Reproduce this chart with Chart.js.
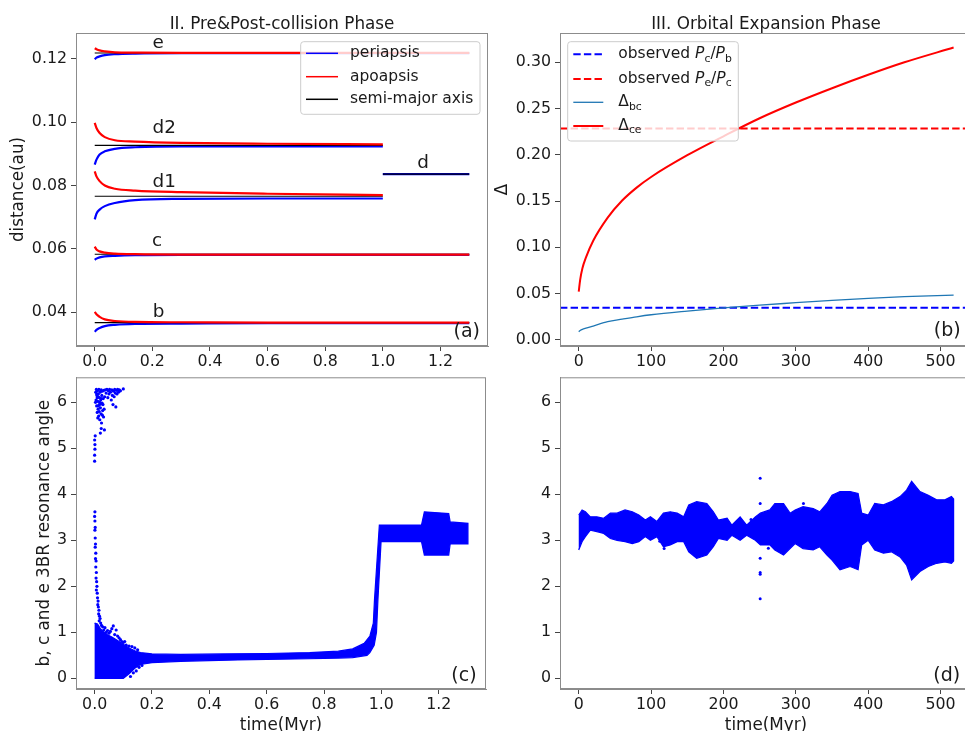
<!DOCTYPE html>
<html>
<head>
<meta charset="utf-8">
<script src="https://cdn.jsdelivr.net/npm/chart.js@4.4.1/dist/chart.umd.min.js"></script>
<style>
  html, body { margin: 0; padding: 0; background: #fff; overflow: hidden; width: 965px; height: 731px; }
  canvas { position: absolute; }
</style>
</head>
<body>
<canvas id="chartA" width="490" height="372" style="left:0;top:0"></canvas>
<canvas id="chartB" width="490" height="372" style="left:490px;top:0"></canvas>
<canvas id="chartC" width="490" height="371" style="left:0;top:360px"></canvas>
<canvas id="chartD" width="490" height="371" style="left:490px;top:360px"></canvas>
<script>
// ---------- panel (a): periapsis / apoapsis / semi-major axis ----------
const tFull  = [0, 0.006, 0.017, 0.035, 0.07, 0.14, 0.3, 0.6, 1.0, 1.3];
const tSplit = [0, 0.006, 0.017, 0.035, 0.07, 0.14, 0.3, 0.6, 1.0];

const bApo   = [0.0401, 0.0393, 0.0385, 0.0377, 0.0372, 0.0369, 0.0368, 0.0367, 0.0367, 0.0367];
const bPeri  = [0.0338, 0.0344, 0.0350, 0.0356, 0.0360, 0.0363, 0.0364, 0.0365, 0.0365, 0.0365];
const cApo   = [0.0607, 0.0598, 0.0592, 0.0588, 0.0585, 0.0583, 0.0582, 0.0582, 0.0582, 0.0582];
const cPeri  = [0.0565, 0.0569, 0.0573, 0.0576, 0.0578, 0.0580, 0.0581, 0.0581, 0.0581, 0.0581];
const eApo   = [0.1234, 0.1231, 0.1227, 0.1224, 0.1221, 0.1220, 0.1219, 0.1219, 0.1219, 0.1219];
const ePeri  = [0.1199, 0.1204, 0.1208, 0.1212, 0.1215, 0.1217, 0.1218, 0.1218, 0.1218, 0.1218];
const d1Apo  = [0.0845, 0.0829, 0.0814, 0.0800, 0.0790, 0.0784, 0.0779, 0.0774, 0.0770];
const d1Peri = [0.0693, 0.0711, 0.0724, 0.0735, 0.0745, 0.0754, 0.0758, 0.0759, 0.0759];
const d2Apo  = [0.0998, 0.0982, 0.0966, 0.0953, 0.0943, 0.0939, 0.0935, 0.0932, 0.0930];
const d2Peri = [0.0866, 0.0882, 0.0898, 0.0908, 0.0916, 0.0921, 0.0924, 0.0924, 0.0924];
const dMergedT = [1.0, 1.3];
const dMerged  = [0.0836, 0.0836];

const semiMajor = [0.0367, 0.0583, 0.0766, 0.0927, 0.1219, 0.0836];
const semiFrom  = [0, 0, 0, 0, 0, 1.0];
const semiTo    = [1.3, 1.3, 1.0, 1.0, 1.3, 1.3];

const planetNames = ['e', 'd2', 'd1', 'c', 'b', 'd'];
const planetAtT   = [0.22, 0.241, 0.241, 0.216, 0.222, 1.14];
const planetAtY   = [0.1251, 0.0982, 0.0810, 0.0623, 0.0399, 0.0872];

const aTicksX = [0, 0.2, 0.4, 0.6, 0.8, 1.0, 1.2];
const aTicksY = [0.04, 0.06, 0.08, 0.10, 0.12];

// ---------- panel (b): period ratio offsets ----------
const bT       = [0, 2, 5, 10, 20, 40, 60, 80, 100, 150, 200, 250, 300, 350, 400, 450, 518];
const deltaCe  = [0.052, 0.065, 0.077, 0.089, 0.107, 0.132, 0.1505, 0.1645, 0.176, 0.1995, 0.220, 0.2395, 0.2565, 0.272, 0.2865, 0.300, 0.316];
const deltaBc  = [0.0087, 0.0100, 0.0112, 0.0125, 0.0148, 0.0195, 0.0222, 0.0248, 0.0270, 0.0310, 0.0345, 0.0375, 0.0400, 0.0425, 0.0447, 0.0465, 0.0483];
const obsPcPb  = 0.0345;
const obsPePc  = 0.2283;
const bTicksX  = [0, 100, 200, 300, 400, 500];
const bTicksY  = [0, 0.05, 0.10, 0.15, 0.20, 0.25, 0.30];

// ---------- panel (c): 3BR angle, collision phase (cloud outline + stray points) ----------
const cUpperT = [0, 0.01, 0.02, 0.04, 0.06, 0.08, 0.10, 0.12, 0.14, 0.16, 0.20, 0.30, 0.45, 0.60, 0.75, 0.85, 0.90, 0.94, 0.96, 0.972, 0.976, 0.993, 1.14, 1.15, 1.235, 1.24, 1.302];
const cUpperV = [1.20, 1.18, 1.08, 0.96, 0.90, 0.82, 0.74, 0.66, 0.60, 0.56, 0.53, 0.52, 0.53, 0.54, 0.56, 0.59, 0.64, 0.76, 0.92, 1.20, 1.70, 3.33, 3.33, 3.62, 3.58, 3.40, 3.37];
const cLowerT = [0, 0.10, 0.12, 0.14, 0.16, 0.20, 0.30, 0.50, 0.70, 0.85, 0.90, 0.95, 0.96, 0.975, 0.983, 0.988, 0.999, 1.14, 1.15, 1.235, 1.24, 1.302];
const cLowerV = [0.00, 0.00, 0.10, 0.22, 0.30, 0.34, 0.37, 0.40, 0.42, 0.44, 0.45, 0.50, 0.56, 0.72, 1.00, 1.70, 2.97, 2.97, 2.68, 2.68, 2.92, 2.92];
const cDotT = [
  0.000, 0.000, 0.001, 0.001, 0.000, 0.002, 0.004, 0.005, 0.006, 0.007, 0.008, 0.009, 0.010, 0.011, 0.012, 0.013,
  0.014, 0.015, 0.016, 0.017, 0.018, 0.019, 0.020, 0.021, 0.022, 0.023, 0.024, 0.025, 0.026, 0.027, 0.028, 0.030,
  0.031, 0.032, 0.034, 0.035, 0.037, 0.040, 0.043, 0.046, 0.048, 0.050, 0.052, 0.055, 0.058, 0.060, 0.062, 0.064,
  0.066, 0.068, 0.070, 0.072, 0.074, 0.076, 0.078, 0.080, 0.083, 0.086, 0.090, 0.100, 0.023, 0.020,
  0.003, 0.009, 0.013, 0.018, 0.024, 0.029, 0.033, 0.012, 0.016, 0.021, 0.027, 0.007, 0.011,
  0.001, 0.000, 0.001, 0.002, 0.001, 0.002, 0.003, 0.002, 0.004, 0.003, 0.005, 0.004, 0.006, 0.005, 0.007, 0.008,
  0.006, 0.009, 0.010, 0.012, 0.011, 0.013, 0.015, 0.014, 0.017, 0.019, 0.016, 0.021, 0.024, 0.028, 0.032, 0.036,
  0.040, 0.045, 0.050, 0.055, 0.060, 0.065, 0.070, 0.075, 0.080, 0.085, 0.090, 0.095, 0.100, 0.105, 0.110, 0.120,
  0.130, 0.140, 0.150, 0.125, 0.135, 0.145, 0.155, 0.165
];
const cDotV = [
  4.72, 4.85, 4.98, 5.08, 5.18, 5.27, 6.22, 6.05, 6.28, 5.92, 6.15, 5.78, 6.25, 6.02, 5.85, 6.18,
  5.70, 6.28, 5.95, 6.10, 5.62, 6.22, 5.88, 6.05, 5.75, 6.27, 5.55, 6.15, 5.98, 6.24, 5.82, 6.08,
  5.68, 6.26, 5.40, 6.12, 6.27, 6.20, 6.28, 6.10, 6.25, 6.18, 6.28, 6.22, 6.05, 6.27, 6.15, 5.95,
  6.24, 6.12, 6.28, 6.20, 5.90, 6.26, 6.18, 6.28, 6.22, 6.27, 6.25, 6.29, 5.43, 5.33,
  6.00, 6.10, 5.92, 6.00, 6.08, 5.95, 5.85, 6.12, 5.80, 5.96, 5.72, 6.18, 5.66,
  3.62, 3.52, 3.42, 3.28, 3.22, 3.05, 2.92, 2.85, 2.72, 2.60, 2.55, 2.42, 2.30, 2.18, 2.10, 2.00,
  1.92, 1.85, 1.75, 1.68, 1.60, 1.55, 1.48, 1.40, 1.35, 1.30, 1.25, 1.20, 1.15, 1.12, 1.05, 1.10,
  1.00, 1.04, 0.98, 1.02, 1.08, 1.14, 0.95, 1.05, 0.92, 0.88, 0.84, 0.80, 0.78, 0.80, 0.72, 0.70,
  0.69, 0.66, 0.62, 0.04, 0.12, 0.16, 0.24, 0.28
];

// ---------- panel (d): 3BR angle, orbital expansion ----------
const dEnvT   = [0, 4.6, 9.2, 16, 25, 34.5, 43.7, 53, 64, 74, 83, 92, 99, 108, 117, 126.5, 136, 145, 152, 163,
                 177, 186, 193, 205, 211.5, 223, 232, 244, 251, 264, 271, 283, 292, 299, 310, 324, 333, 343, 350, 361,
                 375, 386, 391, 400, 409, 421, 432, 444, 453, 460, 471.5, 483, 494.5, 506, 515, 518];
const dUpperV = [3.55, 3.66, 3.62, 3.51, 3.51, 3.48, 3.59, 3.59, 3.66, 3.62, 3.55, 3.44, 3.51, 3.41, 3.59, 3.62, 3.59, 3.51, 3.77, 3.84,
                 3.80, 3.62, 3.44, 3.48, 3.33, 3.51, 3.33, 3.51, 3.59, 3.66, 3.80, 3.80, 3.59, 3.66, 3.73, 3.69, 3.62, 3.80, 3.98, 4.06,
                 4.06, 4.02, 3.59, 3.55, 3.80, 3.77, 3.84, 3.95, 4.09, 4.28, 4.06, 3.98, 3.88, 3.88, 3.95, 3.90];
const dLowerV = [2.79, 2.97, 3.08, 3.22, 3.19, 3.15, 3.04, 3.00, 2.97, 2.93, 2.97, 3.08, 3.00, 3.08, 2.86, 2.90, 2.97, 2.97, 2.75, 2.61,
                 2.68, 2.86, 3.04, 3.00, 3.11, 3.00, 3.11, 3.00, 2.90, 2.90, 2.79, 2.68, 2.82, 2.93, 2.82, 2.79, 2.86, 2.68, 2.57, 2.36,
                 2.43, 2.36, 2.90, 3.00, 2.79, 2.72, 2.75, 2.64, 2.46, 2.14, 2.32, 2.43, 2.50, 2.53, 2.50, 2.55];
const dDotT = [250.7, 250.7, 250.7, 250.7, 250.7, 250.7, 310.5, 112, 118, 238, 262];
const dDotV = [4.35, 3.80, 2.61, 2.30, 2.26, 1.73, 3.80, 2.98, 2.82, 3.45, 2.83];
const angleTicksY = [0, 1, 2, 3, 4, 5, 6];

// ---------- shared look ----------
const FONT = 'DejaVu Sans';
const INK = '#1a1a1a';
const FRAME = '#8c8c8c';
const BLUE = '#0000ff';
const RED = '#ff0000';
const TICK_SIZE = 15.8;

const pts = (xs, ys) => xs.map((x, i) => ({ x: x, y: ys[i] }));
const flat = (x0, x1, y) => [{ x: x0, y: y }, { x: x1, y: y }];

function axis(min, max, tickVals, digits, fixedSize, showLabels) {
    return {
        type: 'linear', min: min, max: max,
        afterBuildTicks: s => { s.ticks = tickVals.map(v => ({ value: v })); },
        afterFit: s => { if (s.isHorizontal()) s.height = fixedSize; else s.width = fixedSize; },
        ticks: {
            display: showLabels,
            callback: v => Number(v).toFixed(digits),
            color: INK, font: { family: FONT, size: TICK_SIZE },
            padding: 4, autoSkip: false, maxRotation: 0
        },
        grid: { drawOnChartArea: false, drawTicks: true, tickLength: 5, color: '#444', tickWidth: 1 },
        border: { display: true, color: FRAME }
    };
}

function line(data, color, width, extra) {
    return Object.assign({
        data: data, showLine: true, borderColor: color, backgroundColor: color,
        borderWidth: width, pointRadius: 0, fill: false, clip: 0
    }, extra || {});
}

function drawFrame(ctx, a) {
    ctx.save();
    ctx.strokeStyle = FRAME;
    ctx.lineWidth = 1;
    ctx.strokeRect(a.left + 0.5, a.top + 0.5, a.right - a.left - 1, a.bottom - a.top - 1);
    ctx.restore();
}

function text(ctx, str, x, y, size, rotate) {
    ctx.save();
    ctx.fillStyle = INK;
    ctx.font = `${size}px ${FONT}`;
    ctx.textAlign = 'center';
    ctx.textBaseline = 'middle';
    ctx.translate(x, y);
    if (rotate) ctx.rotate(-Math.PI / 2);
    ctx.fillText(str, 0, 0);
    ctx.restore();
}

// x tick labels placed by the x scale, a fixed distance under the axis
function xTickLabels(chart, tickVals, digits) {
    const { ctx, chartArea: a, scales } = chart;
    tickVals.forEach(v => text(ctx, v.toFixed(digits), scales.x.getPixelForValue(v), a.bottom + 15.5, TICK_SIZE));
}

// text with italic letters and subscripts, left aligned
function richText(ctx, parts, x, y, size) {
    let cx = x;
    ctx.textAlign = 'left';
    ctx.textBaseline = 'middle';
    ctx.fillStyle = INK;
    parts.forEach(p => {
        const sz = p.sub ? size * 0.7 : size;
        ctx.font = `${p.it ? 'italic ' : ''}${sz}px ${FONT}`;
        ctx.fillText(p.t, cx, y + (p.sub ? size * 0.3 : 0));
        cx += ctx.measureText(p.t).width;
    });
}

function drawLegend(ctx, box, rows, handle, textX, size) {
    ctx.save();
    ctx.fillStyle = 'rgba(255,255,255,0.8)';
    ctx.strokeStyle = '#cccccc';
    ctx.lineWidth = 1;
    ctx.beginPath();
    ctx.roundRect(box.x, box.y, box.w, box.h, 3);
    ctx.fill();
    ctx.stroke();
    rows.forEach(r => {
        ctx.save();
        ctx.strokeStyle = r.color;
        ctx.lineWidth = r.width;
        ctx.setLineDash(r.dash || []);
        ctx.beginPath();
        ctx.moveTo(handle[0], r.y);
        ctx.lineTo(handle[1], r.y);
        ctx.stroke();
        ctx.restore();
        richText(ctx, r.label, textX, r.y, size);
    });
    ctx.restore();
}

const baseOptions = {
    responsive: false,
    animation: false,
    devicePixelRatio: 1,
    events: [],
    plugins: { legend: { display: false }, tooltip: { enabled: false } }
};

// ---------- chart (a) ----------
const aDatasets = [];
[[tFull, bPeri, bApo], [tFull, cPeri, cApo], [tSplit, d1Peri, d1Apo], [tSplit, d2Peri, d2Apo], [tFull, ePeri, eApo]]
    .forEach(([t, peri, apo], idx) => {
        aDatasets.push(line(pts(t, peri), BLUE, 2.2, { cubicInterpolationMode: 'monotone' }));
        aDatasets.push(line(flat(semiFrom[idx], semiTo[idx], semiMajor[idx]), '#000000', 1.1));
        aDatasets.push(line(pts(t, apo), RED, 2.2, { cubicInterpolationMode: 'monotone' }));
    });
aDatasets.push(line(pts(dMergedT, dMerged), BLUE, 2.2));
aDatasets.push(line(flat(semiFrom[5], semiTo[5], semiMajor[5]), '#000000', 1.1));

new Chart(document.getElementById('chartA'), {
    type: 'scatter',
    data: { datasets: aDatasets.reverse() },
    options: Object.assign({}, baseOptions, {
        layout: { padding: { top: 33, right: 2, left: 0, bottom: 0 } },
        scales: {
            x: axis(-0.065, 1.365, aTicksX, 1, 26, false),
            y: axis(0.0293, 0.1282, aTicksY, 2, 76, true)
        }
    }),
    plugins: [{
        id: 'decorA',
        afterDraw(chart) {
            const { ctx, chartArea: a, scales } = chart;
            drawFrame(ctx, a);
            xTickLabels(chart, aTicksX, 1);
            text(ctx, 'II. Pre&Post-collision Phase', (a.left + a.right) / 2, a.top - 8, 16.8);
            text(ctx, 'distance(au)', 19, (a.top + a.bottom) / 2, 16.8, true);
            planetNames.forEach((n, i) => {
                text(ctx, n, scales.x.getPixelForValue(planetAtT[i]), scales.y.getPixelForValue(planetAtY[i]), 18.4);
            });
            text(ctx, '(a)', a.right - 21.3, a.bottom - 14.3, 19);
            drawLegend(ctx, { x: 300.7, y: 41.7, w: 179.3, h: 72.6 }, [
                { y: 53.3, color: BLUE, width: 1.5, label: [{ t: 'periapsis' }] },
                { y: 76.7, color: RED, width: 1.5, label: [{ t: 'apoapsis' }] },
                { y: 99.3, color: '#000000', width: 1.5, label: [{ t: 'semi-major axis' }] }
            ], [306, 338], 350, 15.5);
        }
    }]
});

// ---------- chart (b) ----------
const bXMin = -25.9, bXMax = 543.4;
new Chart(document.getElementById('chartB'), {
    type: 'scatter',
    data: {
        datasets: [
            line(pts(bT, deltaCe), RED, 2, { cubicInterpolationMode: 'monotone' }),
            line(pts(bT, deltaBc), '#1f77b4', 1.3, { cubicInterpolationMode: 'monotone' }),
            line(flat(bXMin, bXMax, obsPePc), RED, 2, { borderDash: [7.4, 3.2] }),
            line(flat(bXMin, bXMax, obsPcPb), BLUE, 2, { borderDash: [7.4, 3.2] })
        ]
    },
    options: Object.assign({}, baseOptions, {
        layout: { padding: { top: 33, right: 8, left: 0, bottom: 0 } },
        scales: {
            x: axis(bXMin, bXMax, bTicksX, 0, 26, false),
            y: axis(-0.0068, 0.3317, bTicksY, 2, 70, true)
        }
    }),
    plugins: [{
        id: 'decorB',
        afterDraw(chart) {
            const { ctx, chartArea: a } = chart;
            drawFrame(ctx, a);
            xTickLabels(chart, bTicksX, 0);
            text(ctx, 'III. Orbital Expansion Phase', (a.left + a.right) / 2, a.top - 8, 16.8);
            text(ctx, '\u0394', 13, (a.top + a.bottom) / 2, 16.8, true);
            text(ctx, '(b)', a.right - 24.7, a.bottom - 15, 19);
            drawLegend(ctx, { x: 77.7, y: 41.7, w: 170.6, h: 99.3 }, [
                { y: 54.3, color: BLUE, width: 2, dash: [7.4, 3.2],
                  label: [{ t: 'observed ' }, { t: 'P', it: 1 }, { t: 'c', sub: 1 }, { t: '/' }, { t: 'P', it: 1 }, { t: 'b', sub: 1 }] },
                { y: 79, color: RED, width: 2, dash: [7.4, 3.2],
                  label: [{ t: 'observed ' }, { t: 'P', it: 1 }, { t: 'e', sub: 1 }, { t: '/' }, { t: 'P', it: 1 }, { t: 'c', sub: 1 }] },
                { y: 102.3, color: '#1f77b4', width: 1.3, label: [{ t: '\u0394' }, { t: 'bc', sub: 1 }] },
                { y: 126, color: RED, width: 2, label: [{ t: '\u0394' }, { t: 'ce', sub: 1 }] }
            ], [83.3, 113.3], 128.3, 15.5);
        }
    }]
});

// ---------- chart (c) ----------
const cShape = pts(cUpperT, cUpperV).concat(pts(cLowerT, cLowerV).reverse());
new Chart(document.getElementById('chartC'), {
    type: 'scatter',
    data: {
        datasets: [
            { data: pts(cDotT, cDotV), pointRadius: 1.6, pointBorderWidth: 0, backgroundColor: BLUE, borderColor: BLUE, clip: 0 },
            line(cShape, BLUE, 1.2, { fill: 'shape', backgroundColor: BLUE })
        ]
    },
    options: Object.assign({}, baseOptions, {
        layout: { padding: { top: 17.3, right: 2, left: 0, bottom: 0 } },
        scales: {
            x: axis(-0.065, 1.365, aTicksX, 1, 42, false),
            y: axis(-0.232, 6.543, angleTicksY, 0, 76, true)
        }
    }),
    plugins: [{
        id: 'decorC',
        afterDraw(chart) {
            const { ctx, chartArea: a } = chart;
            drawFrame(ctx, a);
            xTickLabels(chart, aTicksX, 1);
            text(ctx, 'b, c and e 3BR resonance angle', 45, (a.top + a.bottom) / 2, 16.8, true);
            text(ctx, 'time(Myr)', (a.left + a.right) / 2, 365.5, 16.8);
            text(ctx, '(c)', a.right - 22, a.bottom - 13, 19);
        }
    }]
});

// ---------- chart (d) ----------
const dShape = pts(dEnvT, dUpperV).concat(pts(dEnvT, dLowerV).reverse());
new Chart(document.getElementById('chartD'), {
    type: 'scatter',
    data: {
        datasets: [
            { data: pts(dDotT, dDotV), pointRadius: 1.5, pointBorderWidth: 0, backgroundColor: BLUE, borderColor: BLUE, clip: 0 },
            line(dShape, BLUE, 1.2, { fill: 'shape', backgroundColor: BLUE })
        ]
    },
    options: Object.assign({}, baseOptions, {
        layout: { padding: { top: 17.3, right: 8, left: 0, bottom: 0 } },
        scales: {
            x: axis(bXMin, bXMax, bTicksX, 0, 42, false),
            y: axis(-0.232, 6.543, angleTicksY, 0, 70, true)
        }
    }),
    plugins: [{
        id: 'decorD',
        afterDraw(chart) {
            const { ctx, chartArea: a } = chart;
            drawFrame(ctx, a);
            xTickLabels(chart, bTicksX, 0);
            text(ctx, 'time(Myr)', (a.left + a.right) / 2, 365.5, 16.8);
            text(ctx, '(d)', a.right - 25.3, a.bottom - 13, 19);
        }
    }]
});
</script>
</body>
</html>
